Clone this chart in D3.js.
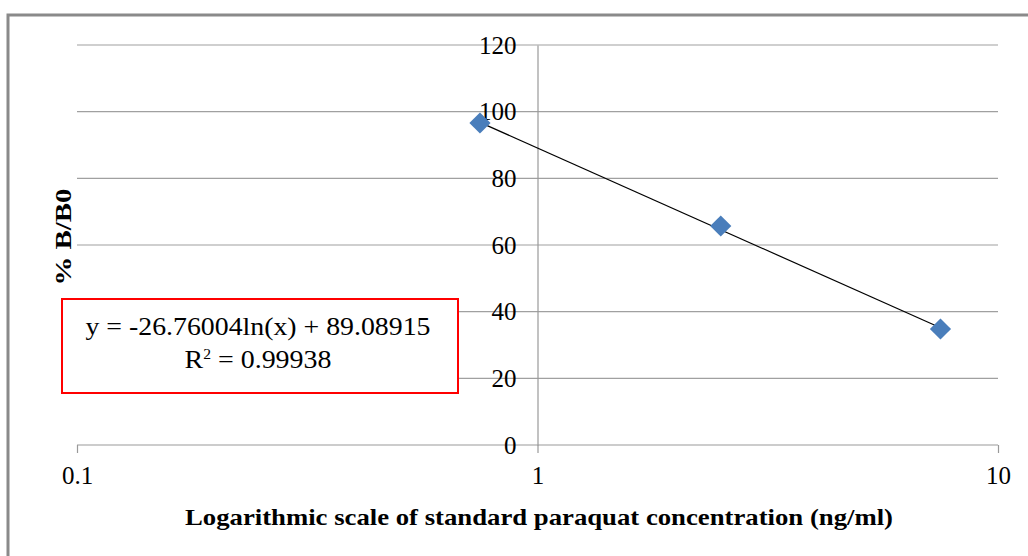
<!DOCTYPE html>
<html>
<head>
<meta charset="utf-8">
<script src="https://cdn.jsdelivr.net/npm/d3@7"></script>
<style>
  body { margin: 0; background: #fff; }
  text { font-family: "Liberation Serif", "Times New Roman", serif; }
</style>
</head>
<body>
<div id="chart"></div>
<script>
var width = 1028;
var height = 556;

// data
var concentration = [0.75, 2.5, 7.5];        // ng/ml
var percentB = [96.6, 65.7, 34.8];           // %B/B0
var xTicks = [0.1, 1, 10];
var yTicks = [0, 20, 40, 60, 80, 100, 120];
// fitted log trend line (as printed on the chart)
var trendSlope = -26.76004;
var trendIntercept = 89.08915;
var equationText = "y = -26.76004ln(x) + 89.08915";
var r2Text = "0.99938";

var plot = { left: 77, right: 998, top: 45, bottom: 445 };

var svg = d3.select("#chart")
  .append("svg")
  .attr("width", width)
  .attr("height", height);

// outer chart border (only top and left visible)
svg.append("path")
  .attr("d", "M8," + height + "V15H" + width)
  .attr("fill", "none")
  .attr("stroke", "#8a8a8a")
  .attr("stroke-width", 3);

var xScale = d3.scaleLog()
  .domain([0.1, 10])
  .range([plot.left, plot.right]);

var yScale = d3.scaleLinear()
  .domain([0, 120])
  .range([plot.bottom, plot.top]);

// horizontal gridlines
svg.append("g")
  .selectAll("line")
  .data(yTicks.filter(function(d) { return d > 0; }))
  .enter().append("line")
  .attr("x1", plot.left)
  .attr("x2", plot.right)
  .attr("y1", function(d) { return yScale(d); })
  .attr("y2", function(d) { return yScale(d); })
  .attr("stroke", "#a0a0a0")
  .attr("stroke-width", 1.2);

// x axis (at y = 0)
var xAxis = svg.append("g")
  .attr("transform", "translate(0," + yScale(0) + ")")
  .call(d3.axisBottom(xScale).tickValues(xTicks).tickSize(8).tickPadding(13)
    .tickFormat(function(d) { return String(d); }));
xAxis.select(".domain").attr("stroke", "#999").attr("stroke-width", 1.2)
  .attr("d", "M" + plot.left + ",0H" + plot.right);
xAxis.selectAll(".tick line").attr("stroke", "#999").attr("stroke-width", 1.2);
xAxis.selectAll(".tick text")
  .attr("font-family", "Liberation Serif")
  .attr("font-size", "25px")
  .attr("fill", "#000");

// y axis crosses at x = 1
var yAxis = svg.append("g")
  .attr("transform", "translate(" + xScale(1) + ",0)")
  .call(d3.axisLeft(yScale).tickValues(yTicks).tickSize(0).tickPadding(21));
yAxis.select(".domain").attr("stroke", "#999").attr("stroke-width", 1.2);
yAxis.selectAll(".tick text")
  .attr("font-family", "Liberation Serif")
  .attr("font-size", "25px")
  .attr("fill", "#000");

// trend line
var trendX = d3.extent(concentration);
var trendPts = trendX.map(function(x) { return [x, trendSlope * Math.log(x) + trendIntercept]; });
svg.append("line")
  .attr("x1", xScale(trendPts[0][0]))
  .attr("y1", yScale(trendPts[0][1]))
  .attr("x2", xScale(trendPts[1][0]))
  .attr("y2", yScale(trendPts[1][1]))
  .attr("stroke", "#000")
  .attr("stroke-width", 1.2);

// diamond markers
svg.append("g")
  .selectAll("path")
  .data(concentration)
  .enter().append("path")
  .attr("d", d3.symbol().type(d3.symbolSquare).size(225))
  .attr("transform", function(d, i) {
    return "translate(" + xScale(d) + "," + yScale(percentB[i]) + ") rotate(45)";
  })
  .attr("fill", "#4a7ebb");

// axis titles
svg.append("text")
  .attr("x", 185)
  .attr("y", 525)
  .attr("font-size", "24px")
  .attr("font-weight", "bold")
  .attr("textLength", 708)
  .attr("lengthAdjust", "spacingAndGlyphs")
  .text("Logarithmic scale of standard paraquat concentration (ng/ml)");

svg.append("text")
  .attr("transform", "translate(71,237) rotate(-90)")
  .attr("text-anchor", "middle")
  .attr("font-size", "24px")
  .attr("font-weight", "bold")
  .attr("textLength", 97)
  .attr("lengthAdjust", "spacingAndGlyphs")
  .text("% B/B0");

// equation box
svg.append("rect")
  .attr("x", 62)
  .attr("y", 299)
  .attr("width", 396)
  .attr("height", 94)
  .attr("fill", "#fff")
  .attr("stroke", "#ff0000")
  .attr("stroke-width", 2);

svg.append("text")
  .attr("x", 258)
  .attr("y", 335)
  .attr("text-anchor", "middle")
  .attr("font-size", "25px")
  .attr("textLength", 345)
  .attr("lengthAdjust", "spacingAndGlyphs")
  .text(equationText);

var r2 = svg.append("text")
  .attr("x", 258)
  .attr("y", 368)
  .attr("text-anchor", "middle")
  .attr("font-size", "25px")
  .attr("textLength", 147)
  .attr("lengthAdjust", "spacingAndGlyphs");
r2.append("tspan").text("R");
r2.append("tspan").attr("font-size", "14px").attr("dy", -9).text("2");
r2.append("tspan").attr("dy", 9).text(" = " + r2Text);
</script>
</body>
</html>
